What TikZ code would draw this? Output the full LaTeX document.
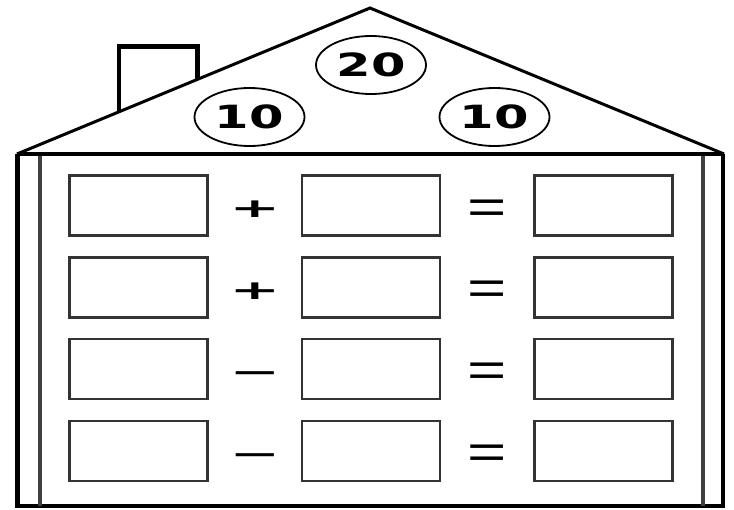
\documentclass[tikz,border=0pt]{standalone}
\usepackage{fontspec}
\setmainfont{DejaVu Sans}
\newfontfamily\tagfont{DejaVu Sans}[FakeStretch=1.55]
\newfontfamily\opfont{DejaVu Sans}[FakeStretch=2.3]
\newfontfamily\eqfont{Liberation Sans}[FakeStretch=1.4]
\usetikzlibrary{positioning,shapes.geometric,calc}

\begin{document}
\begin{tikzpicture}[x=1pt,y=-1pt,node distance=19pt and 92pt,
  slot/.style={draw=black!80,line width=2.6pt,minimum width=138pt,minimum height=60pt,inner sep=0pt},
  tag/.style={draw,ellipse,line width=1.8pt,minimum width=110pt,minimum height=58pt,inner sep=0pt,font=\tagfont\bfseries\fontsize{32}{32}\selectfont},
  sign/.style={inner sep=0pt,text height=0.636em,text depth=0pt,font=\opfont\bfseries\fontsize{26.5}{27}\selectfont},
  eqsign/.style={inner sep=0pt,text height=0.7em,text depth=0pt,font=\eqfont\fontsize{48}{48}\selectfont},
  wall/.style={line width=4.5pt},
  inwall/.style={draw=black!75,line width=4pt}]
  \useasboundingbox (0,0) rectangle (734,509);
  % roof and chimney
  \coordinate (eaveL) at (17,154);
  \coordinate (eaveR) at (724,154);
  \coordinate (apex) at (370,8);
  \coordinate (chtop) at (0,46.5);
  \coordinate (ch1) at ($(eaveL)!0.289!(apex)$);
  \coordinate (ch2) at ($(eaveL)!0.511!(apex)$);
  \draw[line width=3pt] (eaveL) -- (apex) -- (eaveR);
  \draw[wall] (ch1) -- (ch1 |- chtop) -- (ch2 |- chtop) -- (ch2);
  \node[tag] (top) at (371,65) {20};
  \node[tag] (left) at (249.5,117) {10};
  \node[tag] (right) at (494.5,117) {10};
  % walls
  \coordinate (baseL) at (17.5,506);
  \coordinate (baseR) at (723,506);
  \draw[line width=3.5pt] (eaveL) -- (eaveR);
  \draw[wall] (eaveL -| baseL) -- (baseL) -- (baseR) -- (eaveR -| baseR);
  \draw[inwall] (39.5,156) -- (39.5,506);
  \draw[inwall] (702.5,156) -- (702.5,506);
  % sums
  \foreach \op [count=\i] in {+,+,−,−} {
    \node[slot] (a\i) at (138.5,{205.5+81.8*(\i-1)}) {};
    \node[slot,right=of a\i] (b\i) {};
    \node[slot,right=of b\i] (c\i) {};
    \node[sign] (o\i) at ($(a\i.east)!0.5!(b\i.west)+(0,9)$) {\op};
    \node[eqsign] (q\i) at ($(b\i.east)!0.5!(c\i.west)+(0,14)$) {=};
  }
\end{tikzpicture}
\end{document}
